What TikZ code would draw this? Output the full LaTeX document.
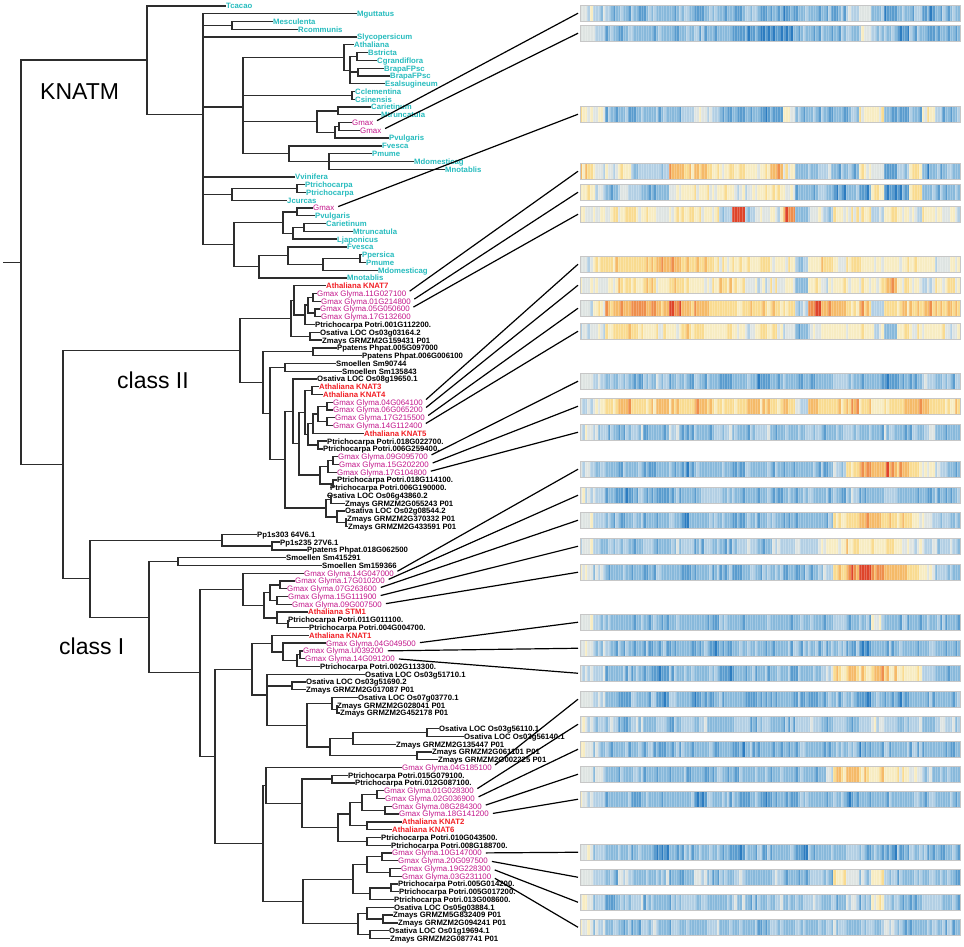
\documentclass[tikz,border=0pt]{standalone}
\usepackage{fontspec}
\newfontfamily\labfont{Liberation Sans}
\usetikzlibrary{calc}
\definecolor{cyancol}{RGB}{38,188,190}
\definecolor{magcol}{RGB}{196,24,140}
\definecolor{redcol}{RGB}{242,30,36}
\definecolor{brcol}{RGB}{45,45,45}
\definecolor{hm0}{RGB}{44,124,192}
\definecolor{hm1}{RGB}{90,156,206}
\definecolor{hm2}{RGB}{136,185,219}
\definecolor{hm3}{RGB}{178,207,228}
\definecolor{hm4}{RGB}{222,228,226}
\definecolor{hm5}{RGB}{247,236,194}
\definecolor{hm6}{RGB}{249,219,144}
\definecolor{hm7}{RGB}{245,186,104}
\definecolor{hm8}{RGB}{238,142,76}
\definecolor{hm9}{RGB}{222,68,42}
\newcommand\lbf{\labfont\bfseries\fontsize{7.75}{8}\selectfont}
\newcommand\lrf{\labfont\fontsize{7.9}{8}\selectfont}
\newcommand\cfont{\labfont\fontsize{23}{24}\selectfont}
\tikzset{
  br/.style={line width=1.3pt, draw=brcol},
  lab/.style={anchor=west, inner sep=0pt, text height=5.8pt, text depth=0pt, font=\lbf},
  cy/.style={lab, text=cyancol},
  mg/.style={lab, text=magcol, font=\lrf},
  rd/.style={lab, text=redcol},
  bk/.style={lab, text=black},
  conn/.style={line width=1.2pt, draw=black, shorten <=4pt},
  clade/.style={anchor=base west, inner sep=0pt, font=\cfont},
  bbord/.style={line width=0.6pt, draw=black!22}
}
\newcommand\ed[2]{\foreach \cc in {#2}{\draw[br] (#1) |- (\cc);}}
\newcommand\hmbar[3]{%
  \coordinate (#1) at (578,#2+8.25);
  \foreach \lv [count=\k from 0] in {#3}{
    \foreach \j in {0,...,4}{
      \pgfmathrandominteger{\rn}{0}{5}
      \pgfmathtruncatemacro\nz{equal(\rn,5)-equal(\rn,0)}
      \pgfmathtruncatemacro\ci{max(0,min(9,\lv+\nz+4))}
      \filldraw[fill=hm\ci, draw=white!22!hm\ci, line width=0.25pt]
        ({580+(\k*5+\j)*2.5333},#2) rectangle ++(2.5333,16.5);
    }
  }
  \draw[bbord] (580,#2) rectangle ++(380,16.5);
}
\begin{document}
\begin{tikzpicture}[x=1pt,y=-1pt]
\pgfmathsetseed{4711}
\path[use as bounding box] (0,0) rectangle (964,947);
\fill[white] (0,0) rectangle (964,947);

\begin{scope}[yshift=-6pt,y=-7.77pt]
% ---------------- KNATM leaves
\node[cy] (l0) at (226,0) {Tcacao};
\node[cy] (l1) at (357,1) {Mguttatus};
\node[cy] (l2) at (273,2) {Mesculenta};
\node[cy] (l3) at (298,3) {Rcommunis};
\node[cy] (l4) at (357,4) {Slycopersicum};
\node[cy] (l5) at (354,5) {Athaliana};
\node[cy] (l6) at (368,6) {Bstricta};
\node[cy] (l7) at (377,7) {Cgrandiflora};
\node[cy] (l8) at (384,8) {BrapaFPsc};
\node[cy] (l9) at (390,9) {BrapaFPsc};
\node[cy] (l10) at (385,10) {Esalsugineum};
\node[cy] (l11) at (355,11) {Cclementina};
\node[cy] (l12) at (355,12) {Csinensis};
\node[cy] (l13) at (371,13) {Carietinum};
\node[cy] (l14) at (381,14) {Mtruncatula};
\node[mg] (l15) at (352,15) {Gmax};
\node[mg] (l16) at (360,16) {Gmax};
\node[cy] (l17) at (389,17) {Pvulgaris};
\node[cy] (l18) at (382,18) {Fvesca};
\node[cy] (l19) at (372,19) {Pmume};
\node[cy] (l20) at (414,20) {Mdomesticag};
\node[cy] (l21) at (445,21) {Mnotablis};
\node[cy] (l22) at (295,22) {Vvinifera};
\node[cy] (l23) at (305,23) {Ptrichocarpa};
\node[cy] (l24) at (306,24) {Ptrichocarpa};
\node[cy] (l25) at (287,25) {Jcurcas};
\node[mg] (l26) at (313,26) {Gmax};
\node[cy] (l27) at (315,27) {Pvulgaris};
\node[cy] (l28) at (326,28) {Carietinum};
\node[cy] (l29) at (353,29) {Mtruncatula};
\node[cy] (l30) at (337,30) {Ljaponicus};
\node[cy] (l31) at (347,31) {Fvesca};
\node[cy] (l32) at (362,32) {Ppersica};
\node[cy] (l33) at (366,33) {Pmume};
\node[cy] (l34) at (378,34) {Mdomesticag};
\node[cy] (l35) at (347,35) {Mnotablis};
% ---------------- class II leaves
\node[rd] (l36) at (326,36) {Athaliana KNAT7};
\node[mg] (l37) at (317,37) {Gmax Glyma.11G027100};
\node[mg] (l38) at (321,38) {Gmax Glyma.01G214800};
\node[mg] (l39) at (320,39) {Gmax Glyma.05G050600};
\node[mg] (l40) at (321,40) {Gmax Glyma.17G132600};
\node[bk] (l41) at (315,41) {Ptrichocarpa Potri.001G112200.};
\node[bk] (l42) at (320,42) {Osativa LOC Os03g03164.2};
\node[bk] (l43) at (322,43) {Zmays GRMZM2G159431 P01};
\node[bk] (l44) at (337,44) {Ppatens Phpat.005G097000};
\node[bk] (l45) at (362,45) {Ppatens Phpat.006G006100};
\node[bk] (l46) at (336,46) {Smoellen Sm90744};
\node[bk] (l47) at (342,47) {Smoellen Sm135843};
\node[bk] (l48) at (317,48) {Osativa LOC Os08g19650.1};
\node[rd] (l49) at (319,49) {Athaliana KNAT3};
\node[rd] (l50) at (323,50) {Athaliana KNAT4};
\node[mg] (l51) at (333,51) {Gmax Glyma.04G064100};
\node[mg] (l52) at (333,52) {Gmax Glyma.06G065200};
\node[mg] (l53) at (335,53) {Gmax Glyma.17G215500};
\node[mg] (l54) at (333,54) {Gmax Glyma.14G112400};
\node[rd] (l55) at (364,55) {Athaliana KNAT5};
\node[bk] (l56) at (327,56) {Ptrichocarpa Potri.018G022700.};
\node[bk] (l57) at (323,57) {Ptrichocarpa Potri.006G259400.};
\node[mg] (l58) at (338,58) {Gmax Glyma.09G095700};
\node[mg] (l59) at (339,59) {Gmax Glyma.15G202200};
\node[mg] (l60) at (337,60) {Gmax Glyma.17G104800};
\node[bk] (l61) at (337,61) {Ptrichocarpa Potri.018G114100.};
\node[bk] (l62) at (330,62) {Ptrichocarpa Potri.006G190000.};
\node[bk] (l63) at (327,63) {Osativa LOC Os06g43860.2};
\node[bk] (l64) at (345,64) {Zmays GRMZM2G055243 P01};
\node[bk] (l65) at (345,65) {Osativa LOC Os02g08544.2};
\node[bk] (l66) at (347,66) {Zmays GRMZM2G370332 P01};
\node[bk] (l67) at (348,67) {Zmays GRMZM2G433591 P01};
% ---------------- class I leaves
\node[bk] (l68) at (257,68) {Pp1s303 64V6.1};
\node[bk] (l69) at (280,69) {Pp1s235 27V6.1};
\node[bk] (l70) at (307,70) {Ppatens Phpat.018G062500};
\node[bk] (l71) at (286,71) {Smoellen Sm415291};
\node[bk] (l72) at (322,72) {Smoellen Sm159366};
\node[mg] (l73) at (304,73) {Gmax Glyma.14G047000};
\node[mg] (l74) at (295,74) {Gmax Glyma.17G010200};
\node[mg] (l75) at (287,75) {Gmax Glyma.07G263600};
\node[mg] (l76) at (288,76) {Gmax Glyma.15G111900};
\node[mg] (l77) at (292,77) {Gmax Glyma.09G007500};
\node[rd] (l78) at (308,78) {Athaliana STM1};
\node[bk] (l79) at (288,79) {Ptrichocarpa Potri.011G011100.};
\node[bk] (l80) at (309,80) {Ptrichocarpa Potri.004G004700.};
\node[rd] (l81) at (309,81) {Athaliana KNAT1};
\node[mg] (l82) at (326,82) {Gmax Glyma.04G049500};
\node[mg] (l83) at (303,83) {Gmax Glyma.U039200};
\node[mg] (l84) at (305,84) {Gmax Glyma.14G091200};
\node[bk] (l85) at (320,85) {Ptrichocarpa Potri.002G113300.};
\node[bk] (l86) at (365,86) {Osativa LOC Os03g51710.1};
\node[bk] (l87) at (306,87) {Osativa LOC Os03g51690.2};
\node[bk] (l88) at (306,88) {Zmays GRMZM2G017087 P01};
\node[bk] (l89) at (358,89) {Osativa LOC Os07g03770.1};
\node[bk] (l90) at (337,90) {Zmays GRMZM2G028041 P01};
\node[bk] (l91) at (340,91) {Zmays GRMZM2G452178 P01};
\node[bk] (l93) at (439,93) {Osativa LOC Os03g56110.1};
\node[bk] (l94) at (464,94) {Osativa LOC Os03g56140.1};
\node[bk] (l95) at (396,95) {Zmays GRMZM2G135447 P01};
\node[bk] (l96) at (432,96) {Zmays GRMZM2G061101 P01};
\node[bk] (l97) at (438,97) {Zmays GRMZM2G002225 P01};
\node[mg] (l98) at (402,98) {Gmax Glyma.04G185100};
\node[bk] (l99) at (348,99) {Ptrichocarpa Potri.015G079100.};
\node[bk] (l100) at (355,100) {Ptrichocarpa Potri.012G087100.};
\node[mg] (l101) at (384,101) {Gmax Glyma.01G028300};
\node[mg] (l102) at (385,102) {Gmax Glyma.02G036900};
\node[mg] (l103) at (392,103) {Gmax Glyma.08G284300};
\node[mg] (l104) at (399,104) {Gmax Glyma.18G141200};
\node[rd] (l105) at (402,105) {Athaliana KNAT2};
\node[rd] (l106) at (392,106) {Athaliana KNAT6};
\node[bk] (l107) at (381,107) {Ptrichocarpa Potri.010G043500.};
\node[bk] (l108) at (391,108) {Ptrichocarpa Potri.008G188700.};
\node[mg] (l109) at (392,109) {Gmax Glyma.10G147000};
\node[mg] (l110) at (398,110) {Gmax Glyma.20G097500};
\node[mg] (l111) at (401,111) {Gmax Glyma.19G228300};
\node[mg] (l112) at (402,112) {Gmax Glyma.03G231100};
\node[bk] (l113) at (398,113) {Ptrichocarpa Potri.005G014200.};
\node[bk] (l114) at (399,114) {Ptrichocarpa Potri.005G017200.};
\node[bk] (l115) at (394,115) {Ptrichocarpa Potri.013G008600.};
\node[bk] (l116) at (394,116) {Osativa LOC Os05g03884.1};
\node[bk] (l117) at (393,117) {Zmays GRMZM5G832409 P01};
\node[bk] (l118) at (398,118) {Zmays GRMZM2G094241 P01};
\node[bk] (l119) at (389,119) {Osativa LOC Os01g19694.1};
\node[bk] (l120) at (390,120) {Zmays GRMZM2G087741 P01};

% ---------------- internal nodes
\coordinate (rootstub) at (3,32.99);
\coordinate (root) at (21,32.99);
\coordinate (nKM) at (147,6.96);
\coordinate (nK2) at (203,13.93);
\coordinate (nMR) at (232,2.5);
\coordinate (nK1) at (243,13.01);
\coordinate (nBras) at (344,6.667);
\coordinate (nB2) at (350,8.333);
\coordinate (nBC) at (357,6.5);
\coordinate (nBR) at (358,8.5);
\coordinate (nCit) at (352,11.5);
\coordinate (nLeg1) at (317,14.875);
\coordinate (nCM) at (338,13.5);
\coordinate (nGGP) at (335,16.25);
\coordinate (nGG) at (339,15.5);
\coordinate (nFv) at (289,19);
\coordinate (nPM) at (329,20);
\coordinate (nPJ) at (232,24.25);
\coordinate (nPP) at (297,23.5);
\coordinate (nLR) at (234,30.72);
\coordinate (nLeg2) at (283,27.875);
\coordinate (nGP2) at (297,26.5);
\coordinate (nCML) at (293,29.25);
\coordinate (nCM2) at (304,28.5);
\coordinate (nRos) at (259,33.5625);
\coordinate (nFv2) at (288,32.125);
\coordinate (nPPM) at (323,33.25);
\coordinate (nPPm) at (360,32.5);
\coordinate (nI2) at (63,59.02);
\coordinate (nII) at (240,44.33);
\coordinate (nK7b) at (291,40.19);
\coordinate (nK7) at (294,37.875);
\coordinate (nG7P) at (305,39.75);
\coordinate (nG7) at (308,38.5);
\coordinate (nG7a) at (313,37.5);
\coordinate (nG7b) at (315,39.5);
\coordinate (nOZ) at (310,42.5);
\coordinate (nP) at (263,48.47);
\coordinate (nPhp) at (313,44.5);
\coordinate (nS) at (270,52.45);
\coordinate (nSm) at (285,46.5);
\coordinate (nB) at (285,58.4);
\coordinate (nC) at (293,52.17);
\coordinate (nE) at (299,56.34);
\coordinate (nG6) at (305,52.31);
\coordinate (nKp) at (312,49.5);
\coordinate (nG5) at (308,55.125);
\coordinate (nG4) at (313,53.75);
\coordinate (nG3) at (318,52.5);
\coordinate (nG1) at (327,51.5);
\coordinate (nG2) at (327,53.5);
\coordinate (nPt1) at (318,56.5);
\coordinate (nH3) at (320,60.375);
\coordinate (nH2) at (328,59.25);
\coordinate (nH1) at (333,58.5);
\coordinate (nPt2) at (333,61.5);
\coordinate (nD) at (326,64.625);
\coordinate (nD1) at (331,63.5);
\coordinate (nD2) at (337,65.75);
\coordinate (nD2a) at (346,66.5);
\coordinate (nI) at (90,73.71);
\coordinate (nPp1) at (222,68.75);
\coordinate (nPp2) at (272,69.5);
\coordinate (nC1) at (149,78.66);
\coordinate (nSm2) at (178,71.5);
\coordinate (nC2) at (200,85.82);
\coordinate (nNs7) at (243,75.06);
\coordinate (nNs6) at (264,77.125);
\coordinate (nNs3) at (270,75.5);
\coordinate (nNs1) at (280,74.5);
\coordinate (nNs2) at (277,76.5);
\coordinate (nNs5) at (277,78.75);
\coordinate (nNs4) at (288,79.5);
\coordinate (nC3) at (215,96.58);
\coordinate (nK) at (252,85.375);
\coordinate (nNk1) at (272,82.06);
\coordinate (nNk2) at (283,83.125);
\coordinate (nNk3) at (297,84.25);
\coordinate (nNk4) at (300,83.5);
\coordinate (nR0) at (267,88.69);
\coordinate (nR1) at (292,87.5);
\coordinate (nR3) at (307,92.56);
\coordinate (nR2) at (332,89.75);
\coordinate (nR2a) at (337,90.5);
\coordinate (nR6) at (330,95.375);
\coordinate (nR4) at (353,94.25);
\coordinate (nR5) at (427,93.5);
\coordinate (nR7) at (417,96.5);
\coordinate (nC4) at (263,107.78);
\coordinate (nC4a) at (266,100.31);
\coordinate (nX1) at (302,102.625);
\coordinate (nXp) at (332,99.5);
\coordinate (nX8) at (338,105.75);
\coordinate (nX7) at (350,104);
\coordinate (nX5) at (362,102.5);
\coordinate (nX5a) at (377,101.5);
\coordinate (nX5b) at (385,103.5);
\coordinate (nX6) at (367,105.5);
\coordinate (nX9) at (367,107.5);
\coordinate (nY1) at (303,115.25);
\coordinate (nY5) at (353,112.375);
\coordinate (nY3) at (367,110.5);
\coordinate (nY2a) at (382,109.5);
\coordinate (nY2b) at (390,111.5);
\coordinate (nY4) at (370,114.25);
\coordinate (nY4a) at (391,113.5);
\coordinate (nZ3) at (358,118.125);
\coordinate (nZ1) at (367,116.75);
\coordinate (nZ1a) at (383,117.5);
\coordinate (nZ2) at (370,119.5);

% ---------------- branches
\draw[br] (rootstub) -- (root);
\ed{root}{nKM,nI2}
\ed{nKM}{l0.west,nK2}
\ed{nK2}{l1.west,nMR,l4.west,nK1,l22.west,nPJ,nLR}
\ed{nMR}{l2.west,l3.west}
\ed{nK1}{nBras,nCit,nLeg1,nFv}
\ed{nBras}{l5.west,nB2}
\ed{nB2}{nBC,nBR,l10.west}
\ed{nBC}{l6.west,l7.west}
\ed{nBR}{l8.west,l9.west}
\ed{nCit}{l11.west,l12.west}
\ed{nLeg1}{nCM,nGGP}
\ed{nCM}{l13.west,l14.west}
\ed{nGGP}{nGG,l17.west}
\ed{nGG}{l15.west,l16.west}
\ed{nFv}{l18.west,nPM}
\ed{nPM}{l19.west,l20.west,l21.west}
\ed{nPJ}{nPP,l25.west}
\ed{nPP}{l23.west,l24.west}
\ed{nLR}{nLeg2,nRos}
\ed{nLeg2}{nGP2,nCML}
\ed{nGP2}{l26.west,l27.west}
\ed{nCML}{nCM2,l30.west}
\ed{nCM2}{l28.west,l29.west}
\ed{nRos}{nFv2,l35.west}
\ed{nFv2}{l31.west,nPPM}
\ed{nPPM}{nPPm,l34.west}
\ed{nPPm}{l32.west,l33.west}
\ed{nI2}{nII,nI}
\ed{nII}{nK7b,nP}
\ed{nK7b}{nK7,nOZ}
\ed{nK7}{l36.west,nG7P}
\ed{nG7P}{nG7,l41.west}
\ed{nG7}{nG7a,nG7b}
\ed{nG7a}{l37.west,l38.west}
\ed{nG7b}{l39.west,l40.west}
\ed{nOZ}{l42.west,l43.west}
\ed{nP}{nPhp,nS}
\ed{nPhp}{l44.west,l45.west}
\ed{nS}{nSm,nB}
\ed{nSm}{l46.west,l47.west}
\ed{nB}{nC,nD}
\ed{nC}{l48.west,nE}
\ed{nE}{nG6,nH3}
\ed{nG6}{nKp,nG5}
\ed{nKp}{l49.west,l50.west}
\ed{nG5}{nG4,nPt1}
\ed{nG4}{nG3,l55.west}
\ed{nG3}{nG1,nG2}
\ed{nG1}{l51.west,l52.west}
\ed{nG2}{l53.west,l54.west}
\ed{nPt1}{l56.west,l57.west}
\ed{nH3}{nH2,nPt2}
\ed{nH2}{nH1,l60.west}
\ed{nH1}{l58.west,l59.west}
\ed{nPt2}{l61.west,l62.west}
\ed{nD}{nD1,nD2}
\ed{nD1}{l63.west,l64.west}
\ed{nD2}{l65.west,nD2a}
\ed{nD2a}{l66.west,l67.west}
\ed{nI}{nPp1,nC1}
\ed{nPp1}{l68.west,nPp2}
\ed{nPp2}{l69.west,l70.west}
\ed{nC1}{nSm2,nC2}
\ed{nSm2}{l71.west,l72.west}
\ed{nC2}{nNs7,nC3}
\ed{nNs7}{l73.west,nNs6}
\ed{nNs6}{nNs3,nNs5}
\ed{nNs3}{nNs1,nNs2}
\ed{nNs1}{l74.west,l75.west}
\ed{nNs2}{l76.west,l77.west}
\ed{nNs5}{l78.west,nNs4}
\ed{nNs4}{l79.west,l80.west}
\ed{nC3}{nK,nC4}
\ed{nK}{nNk1,nR0}
\ed{nNk1}{l81.west,nNk2}
\ed{nNk2}{l82.west,nNk3}
\ed{nNk3}{nNk4,l85.west}
\ed{nNk4}{l83.west,l84.west}
\ed{nR0}{l86.west,nR1,nR3}
\ed{nR1}{l87.west,l88.west}
\ed{nR3}{nR2,nR6}
\ed{nR2}{l89.west,nR2a}
\ed{nR2a}{l90.west,l91.west}
\ed{nR6}{nR4,nR7}
\ed{nR4}{nR5,l95.west}
\ed{nR5}{l93.west,l94.west}
\ed{nR7}{l96.west,l97.west}
\ed{nC4}{nC4a,nY1}
\ed{nC4a}{l98.west,nX1}
\ed{nX1}{nXp,nX8}
\ed{nXp}{l99.west,l100.west}
\ed{nX8}{nX7,nX9}
\ed{nX7}{nX5,nX6}
\ed{nX5}{nX5a,nX5b}
\ed{nX5a}{l101.west,l102.west}
\ed{nX5b}{l103.west,l104.west}
\ed{nX6}{l105.west,l106.west}
\ed{nX9}{l107.west,l108.west}
\ed{nY1}{nY5,nZ3}
\ed{nY5}{nY3,nY4}
\ed{nY3}{nY2a,nY2b}
\ed{nY2a}{l109.west,l110.west}
\ed{nY2b}{l111.west,l112.west}
\ed{nY4}{nY4a,l115.west}
\ed{nY4a}{l113.west,l114.west}
\ed{nZ3}{nZ1,nZ2}
\ed{nZ1}{l116.west,nZ1a}
\ed{nZ1a}{l117.west,l118.west}
\ed{nZ2}{l119.west,l120.west}
\end{scope}

% ---------------- clade labels
\node[clade] (tK) at (40,100) {KNATM};
\node[clade] (tII) at (117,388) {class II};
\node[clade] (tI) at (59,654) {class I};

% ---------------- heat maps
\hmbar{b1}{5}{0,-1,-2,-2,-2,-2,-2,-2,-2,-3,-2,-2,-3,-1,-3,-2,-3,-2,-2,-2,-2,-1,0,-2,-3,-2,-2,-3,-2,-2}
\hmbar{b2}{25}{0,-1,-2,-2,-2,-2,-2,-2,-2,-2,-2,-2,-3,-3,-3,-3,-3,-2,-2,-2,-2,-1,0,-2,-2,-3,-2,-3,-2,-2}
\hmbar{b3}{106}{1,0,-2,-2,-2,-2,-2,-2,-1,0,-1,-2,-3,-2,-3,-3,1,-2,-2,-2,-2,-2,1,1,-3,-3,-2,1,-2,-2}
\hmbar{b4}{163}{2,0,0,1,-2,-1,-1,3,2,3,2,1,1,1,1,3,1,-2,-2,-1,-2,-2,1,0,-3,-2,2,-3,-2,-1}
\hmbar{b5}{184}{1,0,-2,0,-1,-2,-2,0,1,1,1,1,0,0,1,1,0,-2,-2,-2,-3,-2,-3,1,-3,-3,2,-2,-2,-2}
\hmbar{b6}{206}{1,0,1,1,1,1,0,1,1,1,1,-1,5,-1,0,0,4,-2,0,-1,1,1,1,-1,1,1,0,1,0,0}
\hmbar{b7}{256}{0,1,2,2,2,2,3,3,2,2,2,1,1,1,2,1,1,-2,1,2,1,2,1,1,1,1,1,1,0,1}
\hmbar{b8}{277}{0,0,1,2,1,2,1,2,1,1,1,2,1,0,0,1,1,-2,1,0,1,1,1,1,3,1,1,0,1,1}
\hmbar{b9}{300}{0,1,3,3,4,4,3,4,3,3,2,2,2,2,2,2,2,-1,4,3,3,2,3,-1,2,2,2,3,2,3}
\hmbar{b10}{323}{0,0,1,2,2,1,1,1,2,2,1,1,1,0,1,1,0,-2,0,1,1,1,1,0,-2,1,1,1,1,0}
\hmbar{b11}{373}{0,-1,-2,-2,-2,-2,-1,-2,-2,-2,-2,-3,-2,-2,-3,-2,-2,-3,-2,-2,-1,-2,-2,-2,-3,-2,-2,-1,-2,-2}
\hmbar{b12}{398}{0,1,2,3,2,2,3,2,2,3,2,2,2,3,2,2,2,-1,3,2,2,3,2,1,2,2,3,2,2,2}
\hmbar{b13}{424}{0,-1,-2,-2,-1,-2,-2,-1,-2,-2,-2,-1,-2,-2,-1,-2,-2,-2,-1,-2,-2,-1,-2,-2,-1,-2,-2,-1,-2,-2}
\hmbar{b14}{461}{0,-1,-2,-2,-2,-3,-2,-2,-3,-2,-2,-2,-3,-2,-2,-2,-2,-2,-2,-2,-1,2,3,3,4,3,2,1,-1,-2}
\hmbar{b15}{487}{0,-1,-2,-3,-2,-2,-3,-2,-2,-2,-1,-2,-2,-2,-2,-3,-2,-2,-2,-2,-2,-1,-2,-2,-1,-2,-2,-2,-2,-2}
\hmbar{b16}{512}{0,-1,-2,-2,-2,-2,-2,-2,-3,-2,-2,-2,-3,-2,-2,-2,-2,-2,-2,-2,1,2,3,3,2,2,1,0,-1,-2}
\hmbar{b17}{538}{0,-1,-2,-1,-2,-1,-2,-1,-1,-2,-1,-2,-1,-1,-2,-1,-1,-1,-1,1,1,2,1,2,1,1,0,0,-1,-1}
\hmbar{b18}{564}{0,-1,-2,-2,-2,-3,-2,-2,-3,-2,-2,-2,-3,-2,-2,-2,-2,-2,-2,-1,2,4,5,4,3,3,2,1,-1,-2}
\hmbar{b19}{614}{0,-1,-2,-2,-2,-2,-3,-2,-2,-2,-3,-2,-2,-2,-2,-2,-2,-2,-2,-2,-1,-2,-2,0,-2,-2,-3,-2,-2,-2}
\hmbar{b20}{640}{0,-1,-2,-2,-2,-2,-2,-3,-2,-2,-3,-2,-2,-2,-2,-2,-2,-2,-2,-2,-2,-2,-3,-2,-2,-2,-2,-2,-2,-2}
\hmbar{b21}{665}{0,-1,-2,-2,-2,-2,-3,-2,-2,-2,-2,-3,-2,-2,-2,-2,-2,-2,-2,-1,2,3,2,3,2,1,1,-1,-2,-2}
\hmbar{b22}{691}{0,-1,-2,-3,-2,-2,-3,-2,-2,-3,-2,-2,-2,-3,-2,-2,-2,-2,-3,-2,-2,-2,-3,-2,-2,-3,-2,-2,-2,-2}
\hmbar{b23}{716}{0,-1,-1,-2,-1,-2,-1,-2,-1,-1,-2,-2,-1,-2,-1,-2,-2,-1,-1,-2,-1,-2,-1,0,-1,-2,-1,-2,-1,-1}
\hmbar{b24}{741}{0,-1,-2,-2,-2,-2,-3,-2,-2,-2,-2,-2,-3,-2,-2,-2,-2,-2,-2,-2,-2,-2,-3,-2,-2,-2,-2,-2,-2,-2}
\hmbar{b25}{766}{0,-1,-2,-2,-2,-2,-2,-2,-2,-2,-2,-2,-2,-2,-2,-2,-2,-2,-2,-1,2,3,2,2,1,1,0,-1,-2,-2}
\hmbar{b26}{791}{0,-1,-2,-2,-3,-2,-2,-2,-2,-3,-2,-2,-2,-2,-3,-2,-2,-2,-2,-2,-2,-3,-2,-2,-2,-2,-2,-2,-2,-2}
\hmbar{b27}{844}{0,-1,-2,-2,-2,-2,-3,-2,-2,-2,-2,-2,-3,-2,-2,-2,-2,-3,-2,-2,-2,-1,-2,-2,-3,-2,-2,-2,-2,-2}
\hmbar{b28}{869}{0,-1,-2,-1,-2,-2,-1,-2,-2,-1,-2,-2,-1,-2,-2,-1,-2,-2,-1,-2,1,0,-1,1,-1,-2,-2,-2,-2,-2}
\hmbar{b29}{894}{0,-1,-2,-2,-1,-2,-2,-2,-1,-2,-2,-2,-1,-2,-2,-1,-2,-2,-1,-2,-2,-1,-2,1,-1,-2,-2,-1,-2,-2}
\hmbar{b30}{919}{0,-1,-2,-2,-2,-1,-2,-2,-2,-2,-1,-2,-2,-2,-2,-1,-2,-2,-2,-2,-1,-2,-2,-2,-1,-2,-2,-2,-2,-2}

% ---------------- connectors from soybean genes to heat maps
\foreach \g/\b in {l15/b1,l16/b2,l26/b3,l37/b4,l38/b5,l39/b6,l51/b7,l52/b8,l53/b9,l54/b10,
  l58/b11,l59/b12,l60/b13,l73/b14,l74/b15,l75/b16,l76/b17,l77/b18,l82/b19,l83/b20,l84/b21,
  l98/b22,l101/b23,l102/b24,l103/b25,l104/b26,l109/b27,l110/b28,l111/b29,l112/b30}
  {\draw[conn] (\g.east) -- (\b);}
\end{tikzpicture}
\end{document}
